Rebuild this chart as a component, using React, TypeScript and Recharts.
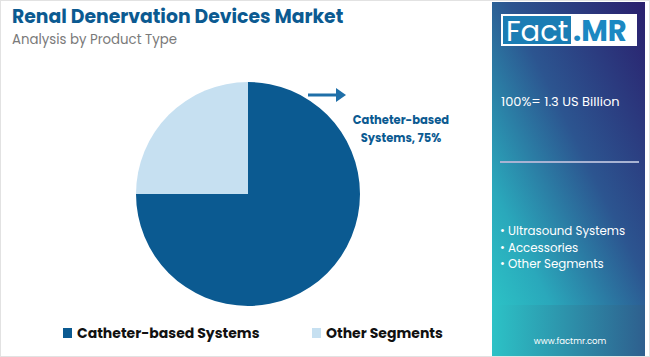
import React from "react";
import { PieChart, Pie, Cell } from "recharts";

const categories = ["Catheter-based Systems", "Other Segments"];
const shares = [75, 25];
const colors = ["#0b5a91", "#c6e0f1"];
const panelTotal = "100%= 1.3 US Billion";
const panelBullets = ["Ultrasound Systems", "Accessories", "Other Segments"];
const titleText = "Renal Denervation Devices Market";
const subtitleText = "Analysis by Product Type";

const data = categories.map((name, i) => ({ name, value: shares[i] }));

const FONT = "Poppins, 'Open Sans', Inter, 'Noto Sans', sans-serif";

export default function App() {
  return (
    <div style={{ position: "absolute", left: 0, top: 0, width: 650, height: 357, background: "#fff", fontFamily: FONT, overflow: "hidden" }}>
      <svg width={650} height={357} style={{ position: "absolute", left: 0, top: 0 }}>
        <defs>
          <linearGradient id="panel" x1="1" y1="0" x2="0" y2="1">
            <stop offset="0" stopColor="#2a1f6d" />
            <stop offset="0.45" stopColor="#2c5590" />
            <stop offset="0.8" stopColor="#2aa8bb" />
            <stop offset="1" stopColor="#2cc3c6" />
          </linearGradient>
          <linearGradient id="bottomPanel" x1="0" y1="0" x2="1" y2="0">
            <stop offset="0" stopColor="#2cc2c6" />
            <stop offset="1" stopColor="#2e5f8e" />
          </linearGradient>
          <linearGradient id="rule" x1="0" y1="0" x2="1" y2="0">
            <stop offset="0" stopColor="#1e5f8f" />
            <stop offset="1" stopColor="#3a8fbf" />
          </linearGradient>
        </defs>
        <rect x={0.5} y={0.5} width={649} height={356} fill="#fff" stroke="#e2e2e2" />
        <rect x={492} y={2} width={153} height={308} fill="url(#panel)" />
        <rect x={492} y={305} width={153} height={51} fill="url(#bottomPanel)" />
        <line x1={4} y1={68} x2={492} y2={68} stroke="url(#rule)" strokeWidth={2} />
        <line x1={5} y1={355} x2={497} y2={355} stroke="url(#rule)" strokeWidth={2} />
        {/* logo */}
        <rect x={501} y={14} width={136} height={32} fill="#fff" />
        <rect x={503} y={16} width={68} height={28} fill="#1b7db4" />
        <text x={506} y={41} fill="#fff" fontSize={29} fontFamily={FONT}>Fact</text>
        <text x={573} y={41} fill="#1b88c2" fontSize={29} fontWeight={700} fontFamily={FONT}>.MR</text>
        {/* panel text */}
        <text x={501} y={106} fill="#fff" fontSize={13}>{panelTotal}</text>
        <line x1={500} y1={162} x2={639} y2={162} stroke="#a8b3d3" strokeWidth={2} />
        {panelBullets.map((b, i) => (
          <text key={b} x={500} y={235 + i * 16.7} fill="#fff" fontSize={11.8}>{"• " + b}</text>
        ))}
        <text x={570} y={344} fill="#fff" fontSize={8.5} textAnchor="middle">www.factmr.com</text>
        {/* title */}
        <text x={12} y={23} fill="#0b5a91" fontSize={18.8} fontWeight={700}>{titleText}</text>
        <text x={12} y={44} fill="#7a7a7a" fontSize={13.3}>{subtitleText}</text>
        {/* arrow + label */}
        <line x1={308} y1={95} x2={338} y2={95} stroke="#1f6fa8" strokeWidth={3} />
        <polygon points="336,88 346,95 336,102" fill="#1f6fa8" />
        <text x={401} y={124} fill="#0b5a91" fontSize={11.5} fontWeight={700} textAnchor="middle">Catheter-based</text>
        <text x={401} y={142} fill="#0b5a91" fontSize={11.5} fontWeight={700} textAnchor="middle">{`Systems, ${shares[0]}%`}</text>
        {/* legend */}
        {categories.map((c, i) => (
          <g key={c}>
            <rect x={[63, 312][i]} y={328} width={9} height={10} fill={colors[i]} />
            <text x={[77, 326][i]} y={338} fill="#111" fontSize={14} fontWeight={700}>{c}</text>
          </g>
        ))}
      </svg>
      <div style={{ position: "absolute", left: 0, top: 0 }}>
        <PieChart width={650} height={357} margin={{ top: 0, right: 0, bottom: 0, left: 0 }}>
          <Pie
            data={data}
            dataKey="value"
            nameKey="name"
            cx={248}
            cy={194}
            outerRadius={112}
            innerRadius={0}
            startAngle={90}
            endAngle={-270}
            stroke="none"
            isAnimationActive={false}
          >
            {data.map((d, i) => (
              <Cell key={d.name} fill={colors[i]} />
            ))}
          </Pie>
        </PieChart>
      </div>
    </div>
  );
}
